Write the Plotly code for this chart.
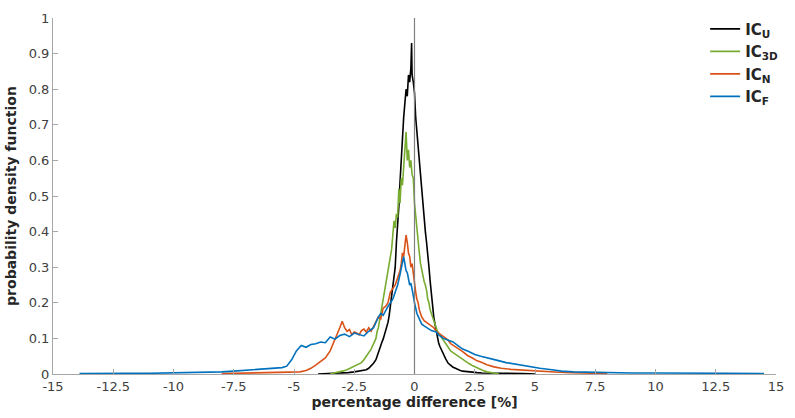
import plotly.graph_objects as go

# ---------------- data ----------------
u_x = [-4.0, -3.5, -3.25, -3.0, -2.75, -2.5, -2.25, -2.0, -1.9, -1.8, -1.7, -1.6, -1.5, -1.45, -1.4, -1.35,
       -1.3, -1.25, -1.2, -1.15, -1.1, -1.05, -1.0, -0.95, -0.9, -0.85, -0.8, -0.75, -0.7, -0.65, -0.6, -0.55,
       -0.5, -0.45, -0.4, -0.35, -0.3, -0.25, -0.2, -0.15, -0.12, -0.1, -0.05, 0.0, 0.05, 0.1, 0.15, 0.2, 0.25,
       0.3, 0.35, 0.4, 0.45, 0.5, 0.55, 0.6, 0.65, 0.7, 0.75, 0.8, 0.85, 0.9, 0.95, 1.0, 1.05, 1.1, 1.15, 1.2,
       1.3, 1.4, 1.5, 1.6, 1.7, 1.8, 1.9, 2.0, 2.2, 2.4, 2.6, 2.8, 3.0, 3.5, 4.0, 4.5, 5.0]
u_y = [0.0, 0.001, 0.002, 0.003, 0.004, 0.006, 0.008, 0.012, 0.016, 0.022, 0.03, 0.04, 0.062, 0.07, 0.078, 0.09,
       0.098, 0.11, 0.118, 0.13, 0.145, 0.165, 0.19, 0.215, 0.24, 0.28, 0.3, 0.37, 0.41, 0.47, 0.54, 0.6,
       0.68, 0.72, 0.76, 0.8, 0.78, 0.84, 0.82, 0.86, 0.93, 0.84, 0.82, 0.79, 0.72, 0.68, 0.64, 0.6, 0.55,
       0.5, 0.46, 0.43, 0.4, 0.37, 0.34, 0.3, 0.26, 0.22, 0.19, 0.16, 0.14, 0.12, 0.1, 0.088, 0.078, 0.07, 0.064, 0.055,
       0.042, 0.03, 0.024, 0.019, 0.016, 0.012, 0.01, 0.008, 0.006, 0.005, 0.004, 0.003, 0.003, 0.002, 0.001, 0.001, 0.0]

d3_x = [-3.5, -3.25, -3.0, -2.8, -2.6, -2.4, -2.2, -2.1, -2.0, -1.9, -1.8, -1.7, -1.6, -1.55, -1.5, -1.45, -1.4,
        -1.35, -1.3, -1.25, -1.2, -1.15, -1.1, -1.05, -1.0, -0.95, -0.9, -0.85, -0.8, -0.75, -0.7, -0.65, -0.6,
        -0.55, -0.5, -0.45, -0.4, -0.35, -0.3, -0.25, -0.2, -0.15, -0.1, -0.05, 0.0, 0.05, 0.1, 0.15, 0.2, 0.25,
        0.3, 0.35, 0.4, 0.45, 0.5, 0.55, 0.6, 0.65, 0.7, 0.75, 0.8, 0.85, 0.9, 0.95, 1.0, 1.1, 1.2, 1.3, 1.4, 1.5,
        1.6, 1.7, 1.8, 1.9, 2.0, 2.2, 2.4, 2.6, 2.8, 3.0, 3.2, 3.5]
d3_y = [0.0, 0.003, 0.008, 0.012, 0.018, 0.024, 0.032, 0.04, 0.05, 0.058, 0.07, 0.085, 0.1, 0.12, 0.13, 0.15, 0.17,
        0.2, 0.21, 0.24, 0.25, 0.27, 0.29, 0.31, 0.33, 0.35, 0.39, 0.43, 0.41, 0.45, 0.44, 0.52, 0.48,
        0.55, 0.53, 0.58, 0.62, 0.68, 0.6, 0.63, 0.58, 0.6, 0.56, 0.55, 0.48, 0.44, 0.4, 0.37, 0.34, 0.31,
        0.29, 0.28, 0.26, 0.25, 0.235, 0.21, 0.2, 0.18, 0.17, 0.155, 0.15, 0.14, 0.13, 0.12, 0.115, 0.105, 0.095, 0.085,
        0.075, 0.065, 0.06, 0.055, 0.05, 0.045, 0.04, 0.032, 0.024, 0.017, 0.011, 0.006, 0.003, 0.0]

n_x = [-8.0, -7.5, -7.0, -6.5, -6.0, -5.5, -5.0, -4.75, -4.5, -4.3, -4.1, -3.9, -3.7, -3.5, -3.4, -3.3, -3.2, -3.1,
       -3.0, -2.9, -2.8, -2.7, -2.6, -2.5, -2.4, -2.3, -2.2, -2.1, -2.0, -1.9, -1.8, -1.7, -1.6, -1.5, -1.4, -1.3,
       -1.2, -1.1, -1.0, -0.9, -0.8, -0.7, -0.6, -0.55, -0.5, -0.45, -0.4, -0.35, -0.3, -0.25, -0.2, -0.15, -0.1,
       -0.05, 0.0, 0.05, 0.1, 0.15, 0.2, 0.3, 0.4, 0.5, 0.6, 0.7, 0.8, 0.9, 1.0, 1.1, 1.2, 1.3, 1.4, 1.5, 1.6,
       1.8, 2.0, 2.2, 2.4, 2.6, 2.8, 3.0, 3.3, 3.6, 4.0, 4.4, 4.8, 5.2, 5.6, 6.0, 6.5, 7.0, 7.5, 8.0]
n_y = [0.001, 0.002, 0.002, 0.003, 0.003, 0.004, 0.005, 0.006, 0.01, 0.016, 0.025, 0.035, 0.045, 0.065, 0.08, 0.1,
       0.11, 0.13, 0.148, 0.13, 0.12, 0.125, 0.11, 0.118, 0.115, 0.11, 0.122, 0.126, 0.118, 0.13, 0.12, 0.135,
       0.15, 0.16, 0.155, 0.185, 0.19, 0.2, 0.23, 0.24, 0.25, 0.27, 0.29, 0.31, 0.34, 0.33, 0.36, 0.39, 0.37,
       0.34, 0.33, 0.3, 0.31, 0.28, 0.25, 0.23, 0.21, 0.2, 0.18, 0.16, 0.15, 0.145, 0.14, 0.135, 0.13, 0.12, 0.115,
       0.11, 0.105, 0.1, 0.095, 0.085, 0.08, 0.072, 0.063, 0.052, 0.045, 0.037, 0.032, 0.026, 0.02, 0.016, 0.013,
       0.011, 0.009, 0.007, 0.006, 0.005, 0.004, 0.003, 0.002, 0.001]

f_x = [-13.9, -13.0, -12.0, -11.0, -10.0, -9.0, -8.5, -8.0, -7.5, -7.0, -6.5, -6.0, -5.75, -5.5, -5.3, -5.1, -4.9,
       -4.7, -4.5, -4.3, -4.1, -3.9, -3.7, -3.5, -3.3, -3.1, -2.9, -2.7, -2.5, -2.3, -2.1, -1.9, -1.7, -1.5, -1.4,
       -1.3, -1.2, -1.1, -1.0, -0.9, -0.8, -0.7, -0.6, -0.55, -0.5, -0.45, -0.4, -0.35, -0.3, -0.25, -0.2, -0.15,
       -0.1, -0.05, 0.0, 0.1, 0.2, 0.3, 0.4, 0.5, 0.6, 0.7, 0.8, 0.9, 1.0, 1.2, 1.4, 1.6, 1.8, 2.0, 2.25, 2.5,
       2.75, 3.0, 3.4, 3.8, 4.2, 4.7, 5.2, 5.7, 6.1, 6.6, 7.2, 8.0, 9.0, 10.0, 11.0, 12.0, 13.0, 14.5]
f_y = [0.001, 0.002, 0.002, 0.002, 0.003, 0.004, 0.005, 0.006, 0.008, 0.01, 0.012, 0.014, 0.015, 0.018, 0.022, 0.04,
       0.065, 0.08, 0.075, 0.083, 0.085, 0.09, 0.088, 0.104, 0.098, 0.108, 0.112, 0.105, 0.115, 0.11, 0.107, 0.12,
       0.13, 0.16, 0.17, 0.165, 0.18, 0.19, 0.2, 0.21, 0.23, 0.25, 0.28, 0.3, 0.31, 0.33, 0.31, 0.29, 0.285, 0.27,
       0.25, 0.255, 0.24, 0.22, 0.2, 0.17, 0.155, 0.14, 0.135, 0.13, 0.125, 0.122, 0.12, 0.118, 0.11, 0.1, 0.095,
       0.09, 0.08, 0.07, 0.063, 0.055, 0.05, 0.045, 0.039, 0.032, 0.027, 0.022, 0.016, 0.012, 0.008, 0.006, 0.005,
       0.004, 0.003, 0.003, 0.002, 0.002, 0.002, 0.001]

series_names = ["<b>IC<sub>U</sub></b>", "<b>IC<sub>3D</sub></b>", "<b>IC<sub>N</sub></b>", "<b>IC<sub>F</sub></b>"]
series_colors = ["#000000", "#77AC30", "#D95319", "#0072BD"]

x_tickvals = [-15, -12.5, -10, -7.5, -5, -2.5, 0, 2.5, 5, 7.5, 10, 12.5, 15]
x_ticktext = ["-15", "-12.5", "-10", "-7.5", "-5", "-2.5", "0", "2.5", "5", "7.5", "10", "12.5", "15"]
y_tickvals = [0, 0.1, 0.2, 0.3, 0.4, 0.5, 0.6, 0.7, 0.8, 0.9, 1]
y_ticktext = ["0", "0.1", "0.2", "0.3", "0.4", "0.5", "0.6", "0.7", "0.8", "0.9", "1"]

# ---------------- figure ----------------
fig = go.Figure()
for xs, ys, name, col in zip([u_x, d3_x, n_x, f_x], [u_y, d3_y, n_y, f_y], series_names, series_colors):
    fig.add_trace(go.Scatter(x=xs, y=ys, mode="lines", name=name,
                             line=dict(color=col, width=1.6)))

fig.add_shape(type="line", xref="x", yref="y", x0=0, x1=0, y0=0, y1=1,
              line=dict(color="#808080", width=1.2), layer="above")

axis_common = dict(showgrid=False, zeroline=False, showline=True, linecolor="#a6a6a6", linewidth=1,
                   ticks="inside", ticklen=5, tickcolor="#a6a6a6", tickwidth=1,
                   tickfont=dict(family="DejaVu Sans", size=13, color="#404040"))

fig.update_layout(
    width=795, height=418,
    margin=dict(l=51, r=11, t=11, b=42),
    paper_bgcolor="white", plot_bgcolor="white",
    font=dict(family="DejaVu Sans", color="#262626"),
    xaxis=dict(range=[-15, 15], tickvals=x_tickvals, ticktext=x_ticktext,
               title=dict(text="<b>percentage difference [%]</b>", font=dict(size=14, color="#262626"), standoff=4),
               **axis_common),
    yaxis=dict(range=[0, 1], tickvals=y_tickvals, ticktext=y_ticktext,
               title=dict(text="<b>probability density function</b>", font=dict(size=14, color="#262626"), standoff=8),
               **axis_common),
    showlegend=True,
    legend=dict(x=0.902, y=1.015, xanchor="left", yanchor="top", bgcolor="rgba(0,0,0,0)",
                font=dict(family="DejaVu Sans", size=15, color="#262626"), itemwidth=30,
                tracegroupgap=0),
)

fig.write_html("out.html")
